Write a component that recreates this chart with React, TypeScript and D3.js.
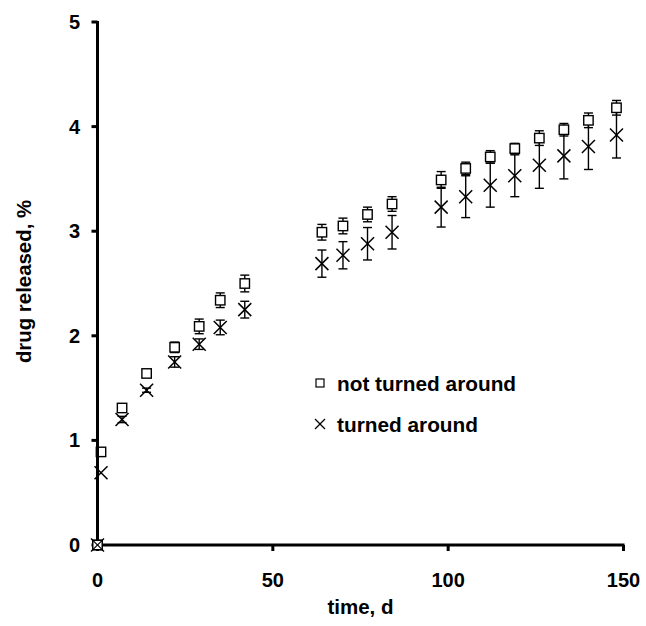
import React from "react";
import * as d3 from "d3";

const days = [0, 1, 7, 14, 22, 29, 35, 42, 64, 70, 77, 84, 98, 105, 112, 119, 126, 133, 140, 148];
const notTurned = [0, 0.89, 1.31, 1.64, 1.89, 2.09, 2.34, 2.5, 2.99, 3.05, 3.16, 3.26, 3.49, 3.6, 3.71, 3.79, 3.89, 3.97, 4.06, 4.18];
const notTurnedErr = [0, 0, 0.02, 0.03, 0.05, 0.07, 0.07, 0.08, 0.075, 0.075, 0.07, 0.07, 0.08, 0.06, 0.06, 0.05, 0.07, 0.06, 0.07, 0.07];
const turned = [0, 0.69, 1.2, 1.48, 1.75, 1.92, 2.08, 2.25, 2.69, 2.77, 2.88, 2.99, 3.23, 3.33, 3.44, 3.53, 3.63, 3.72, 3.81, 3.92];
const turnedErr = [0, 0, 0.03, 0.02, 0.05, 0.05, 0.07, 0.08, 0.13, 0.13, 0.155, 0.16, 0.19, 0.2, 0.21, 0.2, 0.22, 0.22, 0.22, 0.22];
const xTicks = [0, 50, 100, 150];
const yTicks = [0, 1, 2, 3, 4, 5];
const legendLabels = ["not turned around", "turned around"];

const W = 646;
const H = 626;
const FONT = "Arial, 'Liberation Sans', sans-serif";

export default function App() {
  const x = d3.scaleLinear().domain([0, 150]).range([97.5, 623.5]);
  const y = d3.scaleLinear().domain([0, 5]).range([545, 22]);
  const cap = 4.5;
  const sq = 4.7;
  const xs = 6.5;

  const errBar = (cx: number, v: number, e: number, key: string) => {
    if (e <= 0) return null;
    const y1 = y(v + e);
    const y2 = y(v - e);
    return (
      <g key={key} stroke="#000" strokeWidth={1.4}>
        <line x1={cx} x2={cx} y1={y1} y2={y2} />
        <line x1={cx - cap} x2={cx + cap} y1={y1} y2={y1} />
        <line x1={cx - cap} x2={cx + cap} y1={y2} y2={y2} />
      </g>
    );
  };

  return (
    <svg width={W} height={H} style={{ position: "absolute", left: 0, top: 0, background: "#fff" }} fontFamily={FONT}>
      <rect x={0} y={0} width={W} height={H} fill="#fff" />
      {days.map((d, i) => errBar(x(d), turned[i], turnedErr[i], "te" + i))}
      {days.map((d, i) => errBar(x(d), notTurned[i], notTurnedErr[i], "ne" + i))}
      {days.map((d, i) => {
        const cx = x(d);
        const cy = y(turned[i]);
        return (
          <g key={"tx" + i} stroke="#000" strokeWidth={1.5}>
            <line x1={cx - xs} x2={cx + xs} y1={cy - xs} y2={cy + xs} />
            <line x1={cx - xs} x2={cx + xs} y1={cy + xs} y2={cy - xs} />
          </g>
        );
      })}
      {days.map((d, i) => (
        <rect
          key={"ns" + i}
          x={x(d) - sq}
          y={y(notTurned[i]) - sq}
          width={sq * 2}
          height={sq * 2}
          fill="#fff"
          stroke="#000"
          strokeWidth={1.4}
        />
      ))}
      <g stroke="#000" strokeWidth={3}>
        <line x1={x(0)} x2={x(0)} y1={y(5) - 1} y2={y(0) + 1.5} />
        <line x1={x(0) - 1.5} x2={x(150) + 1} y1={y(0)} y2={y(0)} />
        {yTicks.map((t) => (
          <line key={"yt" + t} x1={x(0) - 6} x2={x(0)} y1={y(t)} y2={y(t)} />
        ))}
        {xTicks.map((t) => (
          <line key={"xt" + t} x1={x(t)} x2={x(t)} y1={y(0)} y2={y(0) + 6} />
        ))}
      </g>
      <rect x={x(0) - sq} y={y(0) - sq} width={sq * 2} height={sq * 2} fill="#fff" stroke="#000" strokeWidth={1.4} />
      <g stroke="#000" strokeWidth={1.2}>
        <line x1={x(0) - sq} x2={x(0) + sq} y1={y(0) - sq} y2={y(0) + sq} />
        <line x1={x(0) - sq} x2={x(0) + sq} y1={y(0) + sq} y2={y(0) - sq} />
      </g>
      {yTicks.map((t) => (
        <text key={"yl" + t} x={80} y={y(t)} textAnchor="end" dominantBaseline="central" fontSize={20} fontWeight="bold">
          {t}
        </text>
      ))}
      {xTicks.map((t) => (
        <text key={"xl" + t} x={x(t)} y={580} textAnchor="middle" dominantBaseline="central" fontSize={20} fontWeight="bold">
          {t}
        </text>
      ))}
      <text x={360.5} y={606} textAnchor="middle" dominantBaseline="central" fontSize={20.5} fontWeight="bold">
        time, d
      </text>
      <text
        transform="translate(24,281.5) rotate(-90)"
        textAnchor="middle"
        dominantBaseline="central"
        fontSize={20.4}
        fontWeight="bold"
      >
        drug released, %
      </text>
      <rect x={316} y={379} width={8} height={8} fill="#fff" stroke="#000" strokeWidth={1.2} />
      <text x={337} y={383} dominantBaseline="central" fontSize={20.8} fontWeight="bold">
        {legendLabels[0]}
      </text>
      <g stroke="#000" strokeWidth={1.3}>
        <line x1={315} x2={325} y1={419} y2={429} />
        <line x1={315} x2={325} y1={429} y2={419} />
      </g>
      <text x={337} y={424} dominantBaseline="central" fontSize={20.8} fontWeight="bold">
        {legendLabels[1]}
      </text>
    </svg>
  );
}
